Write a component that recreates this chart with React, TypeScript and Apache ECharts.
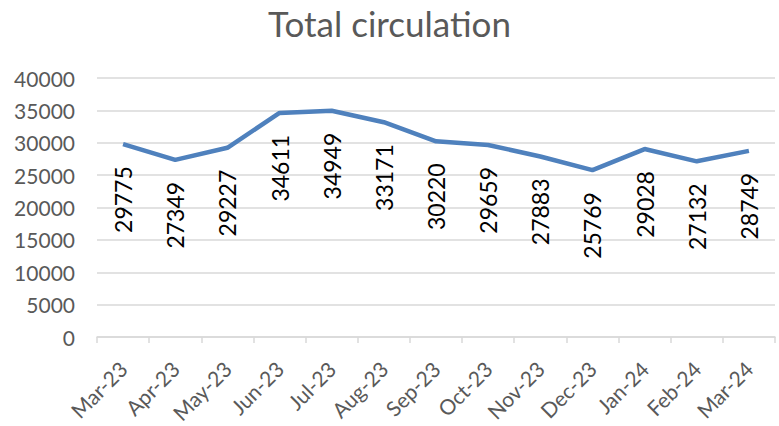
import React, { useEffect, useRef } from "react";
import * as echarts from "echarts";

const months = ["Mar-23","Apr-23","May-23","Jun-23","Jul-23","Aug-23","Sep-23","Oct-23","Nov-23","Dec-23","Jan-24","Feb-24","Mar-24"];
const circulation = [29775,27349,29227,34611,34949,33171,30220,29659,27883,25769,29028,27132,28749];
const yMin = 0;
const yMax = 40000;
const yStep = 5000;

export default function App() {
  const ref = useRef<HTMLDivElement>(null);
  useEffect(() => {
    if (!ref.current) return;
    const chart = echarts.init(ref.current, null, { renderer: "svg" });
    const font = "Lato, 'Open Sans', sans-serif";
    chart.setOption({
      animation: false,
      backgroundColor: "#ffffff",
      textStyle: { fontFamily: font },
      title: {
        text: "Total circulation",
        left: "center",
        top: 0,
        textStyle: { fontFamily: font, fontSize: 35, fontWeight: "normal", color: "#595959" },
      },
      grid: { left: 97, right: 4, top: 78, bottom: 89 },
      xAxis: {
        type: "category",
        data: months,
        boundaryGap: true,
        axisLine: { lineStyle: { color: "#D9D9D9", width: 1.5 } },
        axisTick: { show: true, alignWithLabel: false, length: 6, lineStyle: { color: "#D9D9D9", width: 1.5 } },
        axisLabel: { rotate: 45, fontSize: 21, color: "#595959", margin: 28, interval: 0, fontFamily: font },
      },
      yAxis: {
        type: "value",
        min: yMin,
        max: yMax,
        interval: yStep,
        axisLine: { show: false },
        axisTick: { show: false },
        splitLine: { lineStyle: { color: "#D9D9D9", width: 1.5 } },
        axisLabel: { fontSize: 21, color: "#595959", margin: 22, fontFamily: font, formatter: (v: number) => String(v) },
      },
      series: [
        {
          type: "line",
          data: circulation,
          symbol: "circle",
          symbolSize: 0,
          showSymbol: true,
          lineStyle: { color: "#4F81BD", width: 4.5 },
          itemStyle: { color: "#4F81BD" },
          label: {
            show: true,
            position: "bottom",
            distance: 24,
            rotate: 90,
            align: "right",
            verticalAlign: "middle",
            fontSize: 23,
            color: "#000000",
            offset: [2, 0],
            fontFamily: font,
          },
        },
      ],
    });
    return () => chart.dispose();
  }, []);
  return <div ref={ref} style={{ width: 779, height: 426, position: "absolute", left: 0, top: 0 }} />;
}
